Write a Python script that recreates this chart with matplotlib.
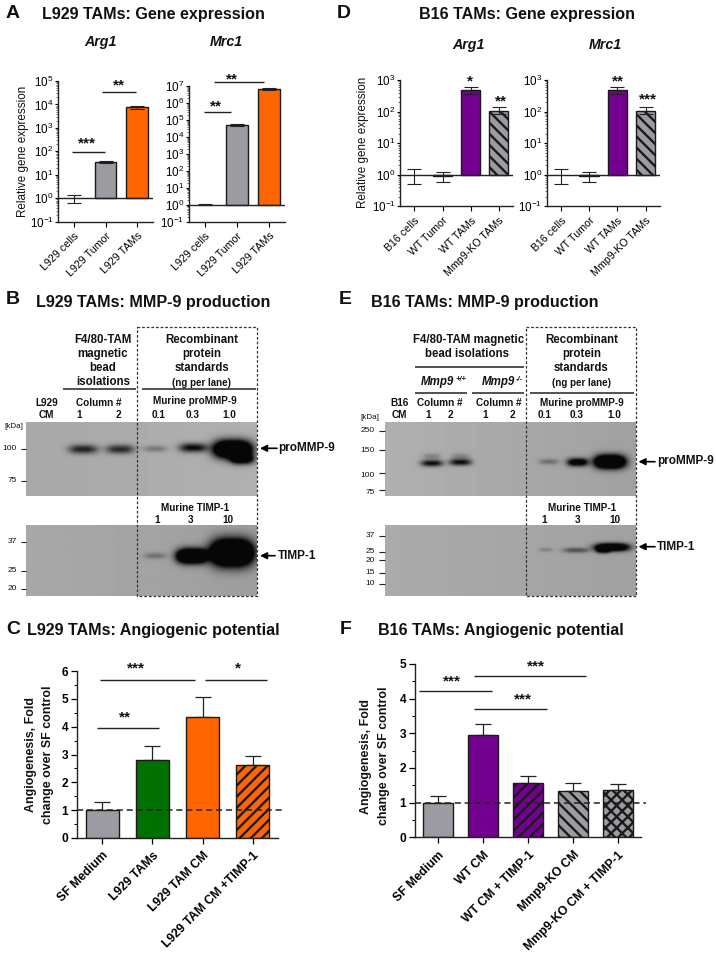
import numpy as np
import matplotlib
matplotlib.use("Agg")
import matplotlib.pyplot as plt
from matplotlib.ticker import MultipleLocator, LogLocator, NullFormatter

plt.rcParams['font.family'] = ['Liberation Sans', 'DejaVu Sans']
plt.rcParams['mathtext.default'] = 'regular'
plt.rcParams['hatch.linewidth'] = 1.7

W, H = 716, 961

GRAY = '#9c9ba1'
ORANGE = '#ff6600'
PURPLE = '#73008f'
GREEN = '#007000'

# --- panel A ---
a_labels = ['L929 cells', 'L929 Tumor', 'L929 TAMs']
a_arg1 = [0.95, 35, 7500]
a_arg1_low = [0.65, 31, 6300]
a_arg1_high = [1.4, 39, 8800]
a_mrc1 = [1.0, 52000, 7200000]
a_mrc1_low = [0.92, 46000, 6300000]
a_mrc1_high = [1.08, 58000, 8200000]
a_colors = ['white', GRAY, ORANGE]

# --- panel D ---
d_labels = ['B16 cells', 'WT Tumor', 'WT TAMs', 'Mmp9-KO TAMs']
d_arg1 = [1.0, 0.93, 480, 108]
d_arg1_low = [0.5, 0.6, 360, 85]
d_arg1_high = [1.5, 1.25, 620, 135]
d_mrc1 = [1.0, 0.93, 480, 108]
d_mrc1_low = [0.5, 0.6, 360, 85]
d_mrc1_high = [1.5, 1.25, 620, 135]
d_colors = ['white', GRAY, PURPLE, GRAY]
d_hatches = [None, None, None, '\\\\\\']

# --- panel C ---
c_labels = ['SF Medium', 'L929 TAMs', 'L929 TAM CM', 'L929 TAM CM +TIMP-1']
c_values = [1.0, 2.8, 4.35, 2.63]
c_err = [0.28, 0.5, 0.73, 0.32]
c_colors = [GRAY, GREEN, ORANGE, ORANGE]
c_hatches = [None, None, None, '///']

# --- panel F ---
f_labels = ['SF Medium', 'WT CM', 'WT CM + TIMP-1', 'Mmp9-KO CM', 'Mmp9-KO CM + TIMP-1']
f_values = [1.0, 2.95, 1.58, 1.34, 1.36]
f_err = [0.2, 0.32, 0.19, 0.23, 0.19]
f_colors = [GRAY, PURPLE, PURPLE, GRAY, GRAY]
f_hatches = [None, None, '///', '\\\\\\', 'xxx']

# --- blot bands: centre x, centre y, half width, half height, darkness ---
b_top_bands = [(83, 449, 14.5, 4.5, .85), (120, 449, 14, 4.5, .8), (155, 448.5, 12, 3.2, .32),
               (193, 447.5, 14, 4.5, 1.0), (232.5, 449, 19, 8.5, 2.5), (242, 459, 12, 5, 1.2)]
b_bot_bands = [(155, 556, 11, 3, .33), (191.5, 556.3, 15, 7, 2.5), (231.7, 553, 21, 12.5, 3.0)]
e_top_bands = [(432, 463, 11, 3.3, 1.0), (460.5, 462, 11, 3.3, 1.0), (432, 456, 9, 3, .25),
               (460.5, 456, 9, 3, .25), (549, 461.5, 10, 2.8, .35), (577.7, 462, 10.5, 4, 1.4),
               (610, 461.5, 15.5, 6.5, 2.5)]
e_bot_bands = [(546, 549.5, 7, 2, .22), (576, 550, 13, 2.6, .55), (612, 547, 17, 3.8, 2.0),
               (603, 550, 7, 3, .9)]

fig = plt.figure(figsize=(W / 100, H / 100), dpi=100)
ov = fig.add_axes([0, 0, 1, 1], zorder=0)
ov.axis('off')


def panel(x0, x1, ytop, ybot):
    ax = fig.add_axes([x0 / W, 1 - ybot / H, (x1 - x0) / W, (ybot - ytop) / H], zorder=2)
    ax.patch.set_alpha(0)
    ax.spines['top'].set_visible(False)
    ax.spines['right'].set_visible(False)
    for s in ('left', 'bottom'):
        ax.spines[s].set_linewidth(1.0)
        ax.spines[s].set_color('#222222')
    return ax


def gene_panel(box, labels, vals, low, high, colors, hatches, ytop_exp, ylog_min=-1, fs=7.7):
    ax = panel(*box)
    x = np.arange(len(vals))
    ax.set_yscale('log')
    ax.set_ylim(10.0 ** ylog_min, 10.0 ** ytop_exp)
    ax.set_xlim(-0.5, len(vals) - 0.5)
    for xi, v, c, h in zip(x, vals, colors, hatches):
        if c == 'white':
            continue
        ax.bar(xi, v - 1, bottom=1, width=0.68, color=c, edgecolor='#1a1a1a', linewidth=1.0,
               hatch=h, zorder=2)
    err = [np.array(vals) - np.array(low), np.array(high) - np.array(vals)]
    ax.errorbar(x, vals, yerr=err, fmt='none', ecolor='#222222', elinewidth=0.8, capsize=5,
                capthick=0.8, zorder=3)
    ax.axhline(1, color='#222222', lw=1.0, zorder=4)
    ax.set_xticks(x)
    ax.set_xticklabels(labels, rotation=45, ha='right', rotation_mode='anchor', fontsize=fs)
    ax.yaxis.set_major_locator(LogLocator(base=10, numticks=12))
    ax.yaxis.set_minor_locator(LogLocator(base=10, subs=np.arange(2, 10) * 0.1, numticks=12))
    ax.yaxis.set_minor_formatter(NullFormatter())
    ax.tick_params(axis='y', which='major', length=2.5, width=0.8, labelsize=8.4, pad=1)
    ax.tick_params(axis='y', which='minor', length=1.3, width=0.4)
    ax.tick_params(axis='x', length=3.5, width=0.8, pad=3)
    return ax


def fold_panel(box, labels, vals, errs, colors, hatches, ymax, width=0.67):
    ax = panel(*box)
    x = np.arange(len(vals))
    ax.set_ylim(0, ymax)
    ax.set_xlim(-0.5, len(vals) - 0.5)
    ax.bar(x, vals, width=width, color=colors, edgecolor='#1a1a1a', linewidth=1.0,
           hatch=hatches, zorder=2)
    ax.errorbar(x, vals, yerr=[np.zeros(len(vals)), errs], fmt='none', ecolor='#222222',
                elinewidth=0.9, capsize=5.5, capthick=0.9, zorder=1)
    ax.set_xticks(x)
    ax.set_xticklabels(labels, rotation=45, ha='right', rotation_mode='anchor', fontsize=8.8,
                       fontweight='bold')
    ax.yaxis.set_major_locator(MultipleLocator(1))
    ax.yaxis.set_minor_locator(MultipleLocator(0.5))
    ax.tick_params(axis='y', which='major', length=4.5, width=0.9, labelsize=8.6, pad=2)
    for t in ax.get_yticklabels():
        t.set_fontweight('bold')
    ax.tick_params(axis='y', which='minor', length=2.5, width=0.7)
    ax.tick_params(axis='x', length=4.5, width=0.9, pad=4)
    return ax


def blot(x0, x1, y0, y1, base, bands, tilt=0.0):
    xs = np.arange(x0, x1, 0.5)
    ys = np.arange(y0, y1, 0.5)
    X, Y = np.meshgrid(xs, ys)
    dark = np.zeros_like(X)
    for cx, cy, w, h, a in bands:
        dark += a * np.exp(-np.abs((X - cx) / w) ** 3 - np.abs((Y - cy) / h) ** 2)
    dark = np.clip(dark, 0, 1)
    bg = base + tilt * (X - x0) / (x1 - x0)
    img = bg * (1 - dark) + 0.03 * dark
    ov.imshow(img, cmap='gray', vmin=0, vmax=1, extent=(x0, x1, y1, y0), aspect='auto',
              interpolation='bilinear', zorder=1)


def txt(x, y, s, size=7.5, weight='normal', ha='center', va='center', style='normal', rot=0):
    ov.text(x, y, s, fontsize=size, fontweight=weight, ha=ha, va=va, style=style, rotation=rot,
            color='#111111', zorder=5)


def hline(x0, x1, y, lw=1.0, color='#222222', ls='-', z=6):
    ov.plot([x0, x1], [y, y], color=color, lw=lw, ls=ls, zorder=z, solid_capstyle='butt')


def arrow(x1, x0, y):
    ov.annotate('', xy=(x0, y), xytext=(x1, y), zorder=7,
                arrowprops=dict(arrowstyle='-|>', color='black', lw=1.2, mutation_scale=10,
                                shrinkA=0, shrinkB=0))


def dbox(x0, x1, y0, y1):
    ov.plot([x0, x1, x1, x0, x0], [y0, y0, y1, y1, y0], color='#333333', lw=0.9, ls=(0, (2.2, 1.5)),
            zorder=6)


# ---- charts ----
TITLE = 11.6
gene_panel((58.3, 152.7, 81, 221.7), a_labels, a_arg1, a_arg1_low, a_arg1_high, a_colors,
           [None] * 3, 5)
gene_panel((189, 285, 86.3, 221.7), a_labels, a_mrc1, a_mrc1_low, a_mrc1_high, a_colors,
           [None] * 3, 7)
gene_panel((400.3, 513, 80, 206.3), d_labels, d_arg1, d_arg1_low, d_arg1_high, d_colors, d_hatches, 3)
gene_panel((546.7, 659.7, 80, 206.3), d_labels, d_mrc1, d_mrc1_low, d_mrc1_high, d_colors, d_hatches, 3)

axc = fold_panel((77.3, 277.7, 671, 838), c_labels, c_values, c_err, c_colors, c_hatches, 6)
axf = fold_panel((415.3, 640.7, 664, 837.3), f_labels, f_values, f_err, f_colors, f_hatches, 5)
for ax, x_end in ((axc, 283), (axf, 646)):
    left = ax.get_position().x0 * W
    right = ax.get_position().x1 * W
    span = (x_end - left) / (right - left)
    ax.plot([0, span], [1, 1], transform=ax.get_yaxis_transform(), color='#222222', lw=1.1,
            ls=(0, (4, 2.5)), clip_on=False, zorder=5)

# titles and letters
for x, y, s in [(6, 13, 'A'), (337, 13, 'D'), (6, 300, 'B'), (339, 300, 'E'), (6, 630, 'C'), (340, 630, 'F')]:
    txt(x, y, s, size=14, weight='bold', ha='left')
for x, y, s in [(42, 14, 'L929 TAMs: Gene expression'), (419, 14, 'B16 TAMs: Gene expression'),
                (36, 302, 'L929 TAMs: MMP-9 production'), (371, 302, 'B16 TAMs: MMP-9 production'),
                (27, 631, 'L929 TAMs: Angiogenic potential'), (378, 631, 'B16 TAMs: Angiogenic potential')]:
    txt(x, y, s, size=TITLE, weight='bold', ha='left')
for x, y, s in [(100.7, 42, 'Arg1'), (226.7, 42, 'Mrc1'), (468, 45, 'Arg1'), (605.7, 45, 'Mrc1')]:
    txt(x, y, s, size=10.3, weight='bold', style='italic')

# y labels
txt(23.5, 151, 'Relative gene expression', size=8.4, rot=90)
txt(363, 142.5, 'Relative gene expression', size=8.4, rot=90)
txt(31, 755, 'Angiogenesis, Fold', size=8.9, weight='bold', rot=90)
txt(48.5, 755, 'change over SF control', size=8.9, weight='bold', rot=90)
txt(365.5, 756, 'Angiogenesis, Fold', size=8.9, weight='bold', rot=90)
txt(384.5, 756, 'change over SF control', size=8.9, weight='bold', rot=90)

# significance bars
STAR = 11
for x0, x1, y, tx, ty, s in [
    (71.7, 105, 151.7, 86.5, 142, '***'), (102, 135.7, 91.7, 119, 84, '**'),
    (204, 230.7, 112.3, 215.5, 105, '**'), (214, 263.7, 82, 232, 78, '**'),
    (100.3, 195, 680, 136, 667.5, '***'), (204.7, 266.5, 680, 238, 667.5, '*'),
    (97, 158.5, 728.3, 125, 716, '**'),
    (419.3, 491.7, 691, 452, 680, '***'), (474, 585.7, 675.7, 536, 665, '***'),
    (474, 546.7, 709.3, 523, 698, '***'),
]:
    hline(x0, x1, y)
    txt(tx, ty + 1, s, size=STAR, weight='bold')
for tx, ty, s in [(470.3, 80.5, '*'), (500.7, 100.5, '**'), (618.3, 80.5, '**'), (647.5, 98, '***')]:
    txt(tx, ty + 1, s, size=STAR, weight='bold')

# ---- blots ----
blot(26, 257, 422, 496, 0.66, b_top_bands, tilt=0.03)
blot(26, 257, 525.7, 596, 0.66, b_bot_bands, tilt=-0.04)
blot(385.3, 636.3, 422, 496, 0.69, e_top_bands, tilt=-0.06)
blot(385.3, 636.3, 525, 596, 0.67, e_bot_bands, tilt=-0.04)
dbox(137, 256.7, 326.7, 596)
dbox(526.3, 636.3, 326.7, 596)

S = 8.3
SM = 7.2
# B annotations
for y, s in [(340, 'F4/80-TAM'), (354, 'magnetic'), (367.7, 'bead'), (381.7, 'isolations')]:
    txt(103, y, s, size=S, weight='bold')
for y, s in [(340, 'Recombinant'), (354, 'protein'), (367.7, 'standards')]:
    txt(202, y, s, size=S, weight='bold')
txt(202, 383, '(ng per lane)', size=7, weight='bold')
hline(63.3, 136, 389.3, lw=1.1)
hline(141.7, 256, 389.3, lw=1.1)
txt(46.7, 402.7, 'L929', size=SM, weight='bold')
txt(46.7, 415, 'CM', size=SM, weight='bold')
txt(99, 402.7, 'Column #', size=SM, weight='bold')
txt(78.7, 415, '1', size=SM, weight='bold')
txt(118.3, 415, '2', size=SM, weight='bold')
txt(194.7, 401, 'Murine proMMP-9', size=SM, weight='bold')
for x, s in [(158.3, '0.1'), (192.3, '0.3'), (229, '1.0')]:
    txt(x, 415, s, size=SM, weight='bold')
txt(194.7, 507.7, 'Murine TIMP-1', size=SM, weight='bold')
for x, s in [(157.3, '1'), (191, '3'), (227.7, '10')]:
    txt(x, 519.7, s, size=SM, weight='bold')
txt(23.5, 426, '[kDa]', size=5.8, ha='right')
for y, s in [(449, '100'), (481, '75'), (541.7, '37'), (571, '25'), (589, '20')]:
    txt(16.7, y, s, size=6, ha='right')
    hline(20.7, 26, y, lw=0.8)
arrow(277, 260, 448.3)
txt(278.3, 448, 'proMMP-9', size=8.5, weight='bold', ha='left')
arrow(275, 260, 555.7)
txt(278.3, 555.7, 'TIMP-1', size=8.5, weight='bold', ha='left')

# E annotations
txt(468.7, 340, 'F4/80-TAM magnetic', size=S, weight='bold')
txt(467, 354, 'bead isolations', size=S, weight='bold')
hline(414.7, 524, 367.3, lw=1.1)
txt(421, 381.7, 'Mmp9', size=8.3, weight='bold', style='italic', ha='left')
txt(456, 379.5, '+/+', size=5.4, weight='bold', style='italic', ha='left')
txt(482, 381.7, 'Mmp9', size=8.3, weight='bold', style='italic', ha='left')
txt(516, 379.5, '-/-', size=5.4, weight='bold', style='italic', ha='left')
hline(414.7, 467, 393.3, lw=1.1)
hline(472, 524, 393.3, lw=1.1)
hline(529.7, 633.7, 393.3, lw=1.1)
for y, s in [(340, 'Recombinant'), (354, 'protein'), (367.7, 'standards')]:
    txt(581.3, y, s, size=S, weight='bold')
txt(581.3, 383, '(ng per lane)', size=7, weight='bold')
txt(399.7, 403, 'B16', size=SM, weight='bold')
txt(399.7, 415, 'CM', size=SM, weight='bold')
txt(439.7, 403, 'Column #', size=SM, weight='bold')
txt(499, 403, 'Column #', size=SM, weight='bold')
for x, s in [(428, '1'), (450.3, '2'), (484.7, '1'), (512, '2')]:
    txt(x, 415, s, size=SM, weight='bold')
txt(582, 403, 'Murine proMMP-9', size=SM, weight='bold')
for x, s in [(544.7, '0.1'), (577, '0.3'), (614.7, '1.0')]:
    txt(x, 415, s, size=SM, weight='bold')
txt(582, 507.7, 'Murine TIMP-1', size=SM, weight='bold')
for x, s in [(544, '1'), (578, '3'), (615.3, '10')]:
    txt(x, 519.7, s, size=SM, weight='bold')
txt(379.7, 417.7, '[kDa]', size=5.8, ha='right')
for y, ty, s in [(430.5, 431, '250'), (449.5, 450, '150'), (472.7, 475.7, '100'), (490, 492.7, '75'),
                 (535.7, 535.7, '37'), (551.7, 551.7, '25'), (560, 560, '20'), (572.7, 572.7, '15'),
                 (583.7, 583.7, '10')]:
    txt(375, ty, s, size=6, ha='right')
    hline(378.7, 385, y, lw=0.8)
arrow(655, 638.5, 461.7)
txt(657, 461, 'proMMP-9', size=8.5, weight='bold', ha='left')
arrow(655, 638.5, 546.7)
txt(657, 546.5, 'TIMP-1', size=8.5, weight='bold', ha='left')

ov.set_xlim(0, W)
ov.set_ylim(H, 0)
fig.savefig('out.png', dpi=100)
